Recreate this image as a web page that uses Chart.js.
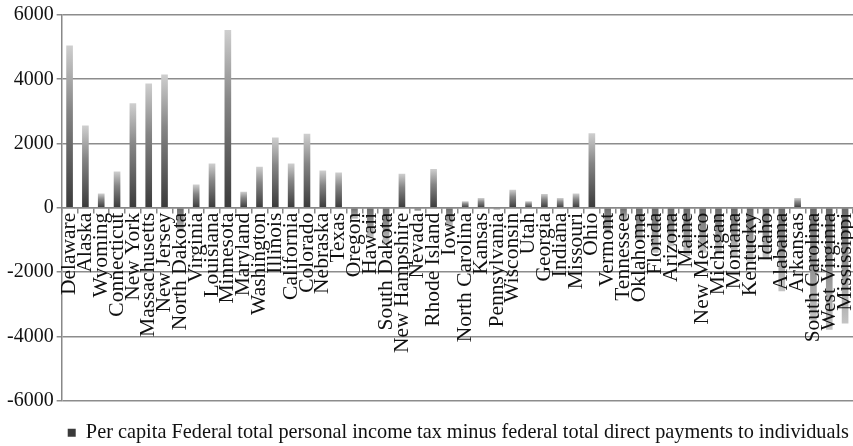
<!DOCTYPE html>
<html>
<head>
<meta charset="utf-8">
<script src="https://cdn.jsdelivr.net/npm/chart.js@4.4.1/dist/chart.umd.min.js"></script>
<style>
  html, body { margin: 0; padding: 0; background: #fff; }
  #wrap { width: 853px; height: 446px; }
</style>
</head>
<body>
<div id="wrap"><canvas id="chart" width="853" height="446"></canvas></div>
<script>
// data
const states = ['Delaware','Alaska','Wyoming','Connecticut','New York','Massachusetts','New Jersey',
  'North Dakota','Virginia','Louisiana','Minnesota','Maryland','Washington','Illinois','California',
  'Colorado','Nebraska','Texas','Oregon','Hawaii','South Dakota','New Hampshire','Nevada','Rhode Island',
  'Iowa','North Carolina','Kansas','Pennsylvania','Wisconsin','Utah','Georgia','Indiana','Missouri','Ohio',
  'Vermont','Tennessee','Oklahoma','Florida','Arizona','Maine','New Mexico','Michigan','Montana',
  'Kentucky','Idaho','Alabama','Arkansas','South Carolina','West Virginia','Mississippi'];
const netPerCapita = [5050, 2560, 440, 1130, 3250, 3870, 4150,
  -750, 720, 1380, 5530, 500, 1280, 2190, 1380,
  2300, 1160, 1100, -340, -950, -1150, 1060, -100, 1210,
  -600, 200, 300, -60, 560, 200, 430, 300, 440, 2320,
  -800, -400, -1000, -1400, -1200, -1500, -1400, -1450, -1500,
  -1700, -1600, -2600, 300, -3500, -3800, -3600];
const yTicks = [-6000, -4000, -2000, 0, 2000, 4000, 6000];
const seriesName = 'Per capita Federal total personal income tax minus federal total direct payments to individuals';

const serif = "'Liberation Serif', 'DejaVu Serif', serif";

function barFill(c) {
  const chart = c.chart;
  const y = chart.scales && chart.scales.y;
  if (c.type !== 'data' || !y) return '#8a8a8a';
  const p0 = y.getPixelForValue(0);
  const p1 = y.getPixelForValue(c.raw);
  if (!isFinite(p0) || !isFinite(p1) || Math.abs(p0 - p1) < 1) return '#666';
  const g = chart.ctx.createLinearGradient(0, p1, 0, p0);
  if (c.raw >= 0) {
    g.addColorStop(0, '#cfcfcf');
    g.addColorStop(0.4, '#858585');
    g.addColorStop(1, '#3a3a3a');
  } else {
    // negative bars sit behind the labels, a bit softer
    g.addColorStop(0, '#c4c4c4');
    g.addColorStop(0.5, '#8e8e8e');
    g.addColorStop(1, '#6a6a6a');
  }
  return g;
}

const chart = new Chart(document.getElementById('chart').getContext('2d'), {
  type: 'bar',
  data: {
    labels: states,
    datasets: [{
      label: seriesName,
      data: netPerCapita,
      backgroundColor: barFill,
      borderWidth: 0,
      barPercentage: 0.42,
      categoryPercentage: 1
    }]
  },
  options: {
    responsive: false,
    animation: false,
    layout: { padding: { left: 4, right: 0, top: 8, bottom: -7 } },
    plugins: {
      tooltip: { enabled: false },
      // empty subtitle used as a spacer between plot and legend
      subtitle: { display: true, position: 'bottom', text: '', font: { size: 1 }, padding: { top: 17, bottom: 0 } },
      legend: {
        position: 'bottom',
        align: 'end',
        weight: 2000,
        labels: {
          boxWidth: 8, boxHeight: 8, color: '#111',
          font: { family: serif, size: 20.3 },
          padding: 4
        }
      }
    },
    scales: {
      x: {
        position: { y: 0 },
        grid: { drawOnChartArea: false, drawTicks: true, tickLength: 5, color: '#888', lineWidth: 1.5 },
        border: { color: '#888', width: 1.5 },
        ticks: {
          z: 1,
          autoSkip: false, minRotation: 90, maxRotation: 90, padding: 0,
          color: '#111', font: { family: serif, size: 21.5 }
        },
        afterFit(scale) {
          scale.height = 0;
          scale.paddingLeft = 0;
          scale.paddingRight = 0;
        }
      },
      y: {
        min: -6000, max: 6000,
        afterBuildTicks(scale) { scale.ticks = yTicks.map(v => ({ value: v })); },
        grid: { color: '#8c8c8c', lineWidth: 1.5, tickLength: 5 },
        border: { color: '#888', width: 1.5 },
        ticks: {
          color: '#111', font: { family: serif, size: 20 }, padding: 3,
          callback: v => String(v)
        }
      }
    }
  }
});
</script>
</body>
</html>
